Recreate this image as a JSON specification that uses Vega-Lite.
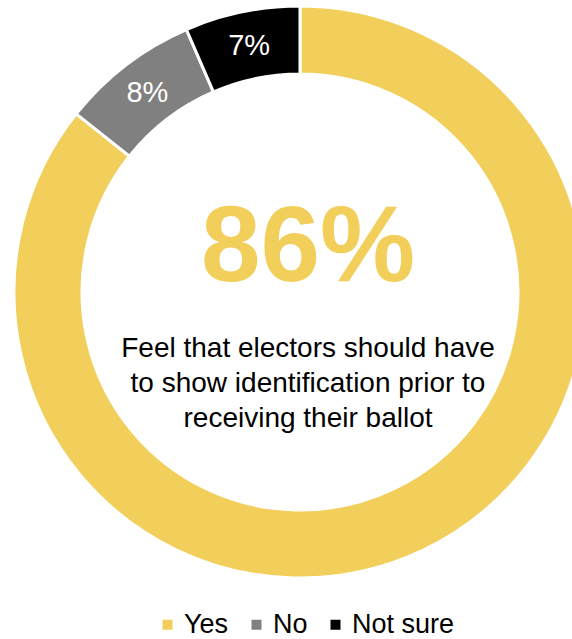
{
  "$schema": "https://vega.github.io/schema/vega-lite/v6.json",
  "width": 600,
  "height": 582,
  "padding": 0,
  "autosize": {"type": "pad"},
  "background": "white",
  "view": {"stroke": null},
  "config": {"font": "Liberation Sans"},
  "layer": [
    {
      "data": {"values": [
        {"cat": "Yes", "value": 85.7, "ord": 1, "label": ""},
        {"cat": "No", "value": 7.8, "ord": 2, "label": "8%"},
        {"cat": "Not sure", "value": 6.5, "ord": 3, "label": "7%"}
      ]},
      "layer": [
        {
          "mark": {"type": "arc", "outerRadius": 286, "innerRadius": 218, "stroke": "white", "strokeWidth": 3},
          "encoding": {
            "theta": {"field": "value", "type": "quantitative", "stack": true},
            "order": {"field": "ord", "type": "quantitative"},
            "color": {
              "field": "cat", "type": "nominal",
              "scale": {"domain": ["Yes", "No", "Not sure"], "range": ["#F2CE5B", "#808080", "#000000"]},
              "legend": {
                "title": null, "orient": "none", "direction": "horizontal",
                "legendX": 154, "legendY": 610,
                "symbolType": "square", "symbolSize": 100, "symbolStrokeWidth": 0,
                "labelFontSize": 27, "labelColor": "#000000", "labelFont": "Liberation Sans",
                "labelOffset": 3, "columnPadding": 14, "padding": 0
              }
            }
          }
        },
        {
          "mark": {"type": "text", "radius": 251, "fontSize": 29, "color": "white", "baseline": "middle", "align": "center"},
          "encoding": {
            "theta": {"field": "value", "type": "quantitative", "stack": true},
            "order": {"field": "ord", "type": "quantitative"},
            "text": {"field": "label"}
          }
        }
      ]
    },
    {
      "data": {"values": [{"big": "86%"}]},
      "mark": {"type": "text", "fontSize": 107, "fontWeight": "bold", "color": "#F2CE5B", "baseline": "alphabetic", "align": "center", "dy": -11, "dx": 8},
      "encoding": {"text": {"field": "big"}}
    },
    {
      "data": {"values": [{"desc": ["Feel that electors should have", "to show identification prior to", "receiving their ballot"]}]},
      "mark": {"type": "text", "fontSize": 28, "color": "#000000", "baseline": "alphabetic", "align": "center", "dy": 65, "dx": 8, "lineHeight": 35},
      "encoding": {"text": {"field": "desc"}}
    }
  ]
}
